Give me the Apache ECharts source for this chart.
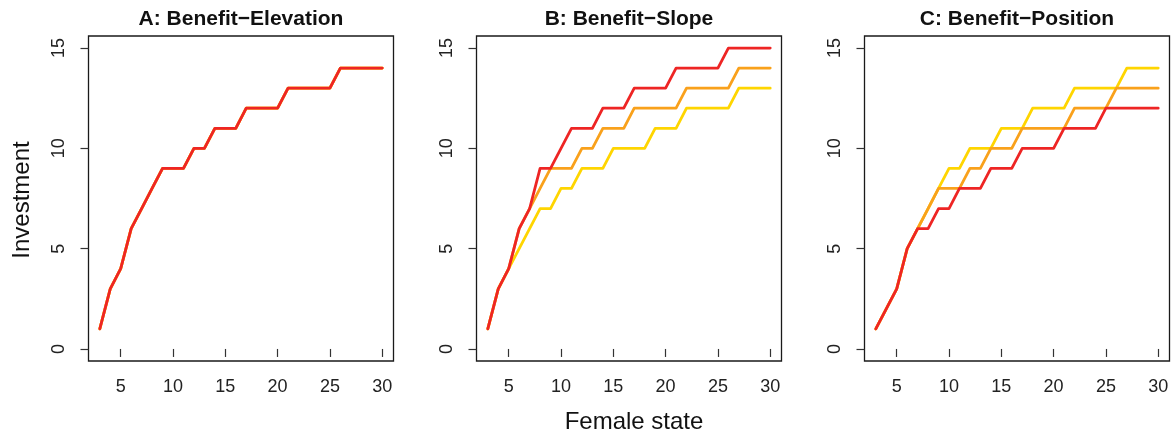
<!DOCTYPE html>
<html>
<head>
<meta charset="utf-8">
<script src="https://cdn.jsdelivr.net/npm/echarts@6/dist/echarts.min.js"></script>
<style>
html,body{margin:0;padding:0;background:#fff;}
#chart{width:1172px;height:437px;}
</style>
</head>
<body>
<div id="chart"></div>
<script>
// Female state (x values)
const femaleState = [3,4,5,6,7,8,9,10,11,12,13,14,15,16,17,18,19,20,21,22,23,24,25,26,27,28,29,30];
const xTicks = [5,10,15,20,25,30];
const yTicks = [0,5,10,15];
const panelTitles = ['A: Benefit\u2212Elevation', 'B: Benefit\u2212Slope', 'C: Benefit\u2212Position'];

// Panel A (all three curves coincide)
const aRed    = [1,3,4,6,7,8,9,9,9,10,10,11,11,11,12,12,12,12,13,13,13,13,13,14,14,14,14,14];
const aOrange = [1,3,4,6,7,8,9,9,9,10,10,11,11,11,12,12,12,12,13,13,13,13,13,14,14,14,14,14];
const aYellow = [1,3,4,6,7,8,9,9,9,10,10,11,11,11,12,12,12,12,13,13,13,13,13,14,14,14,14,14];

// Panel B
const bRed    = [1,3,4,6,7,9,9,10,11,11,11,12,12,12,13,13,13,13,14,14,14,14,14,15,15,15,15,15];
const bOrange = [1,3,4,6,7,8,9,9,9,10,10,11,11,11,12,12,12,12,12,13,13,13,13,13,14,14,14,14];
const bYellow = [1,3,4,5,6,7,7,8,8,9,9,9,10,10,10,10,11,11,11,12,12,12,12,12,13,13,13,13];

// Panel C
const cRed    = [1,2,3,5,6,6,7,7,8,8,8,9,9,9,10,10,10,10,11,11,11,11,12,12,12,12,12,12];
const cOrange = [1,2,3,5,6,7,8,8,8,9,9,10,10,10,11,11,11,11,11,12,12,12,12,13,13,13,13,13];
const cYellow = [1,2,3,5,6,7,8,9,9,10,10,10,11,11,11,12,12,12,12,13,13,13,13,13,14,14,14,14];

const colors = {red:'#EE2524', orange:'#F9A11B', yellow:'#FFD500'};
const FONT = 'Liberation Sans, Arial, Helvetica, sans-serif';

const panels = [
  {left:88.5, width:305, title:panelTitles[0], s:[aYellow,aOrange,aRed]},
  {left:476.5, width:305, title:panelTitles[1], s:[bYellow,bOrange,bRed]},
  {left:864.5, width:305, title:panelTitles[2], s:[cYellow,cOrange,cRed]}
];
const TOP = 36, HEIGHT = 325;

const grid = [], xAxis = [], yAxis = [], series = [], graphic = [];
panels.forEach((p, i) => {
  grid.push({left:p.left, top:TOP, width:p.width, height:HEIGHT, show:true,
    borderColor:'#1a1a1a', borderWidth:1.3, backgroundColor:'transparent'});
  xAxis.push({type:'value', gridIndex:i, min:1.92, max:31.08,
    axisLine:{show:false}, splitLine:{show:false},
    axisTick:{show:true, inside:false, length:8, customValues:xTicks, lineStyle:{color:'#333', width:1.2}},
    axisLabel:{show:true, customValues:xTicks, margin:17, fontSize:18, color:'#222', fontFamily:FONT}
  });
  yAxis.push({type:'value', gridIndex:i, min:-0.6, max:15.6,
    axisLine:{show:false}, splitLine:{show:false},
    axisTick:{show:true, inside:false, length:8, customValues:yTicks, lineStyle:{color:'#333', width:1.2}},
    axisLabel:{show:true, customValues:yTicks, rotate:90, margin:20, fontSize:18, color:'#222', fontFamily:FONT}
  });
  const cols = [colors.yellow, colors.orange, colors.red];
  p.s.forEach((arr, k) => {
    series.push({type:'line', xAxisIndex:i, yAxisIndex:i, showSymbol:false, symbol:'none',
      data: femaleState.map((x, j) => [x, arr[j]]),
      lineStyle:{color:cols[k], width:2.8, join:'round', cap:'round'},
      z: 2 + k, animation:false, silent:true});
  });
  graphic.push({type:'text', x: p.left + p.width/2, y: 19.5,
    style:{text:p.title, font:'bold 21px ' + FONT, fill:'#111', textAlign:'center', textVerticalAlign:'middle'}});
});

graphic.push({type:'text', x:22, y:200, rotation:Math.PI/2,
  style:{text:'Investment', font:'24px ' + FONT, fill:'#111', textAlign:'center', textVerticalAlign:'middle'}});
graphic.push({type:'text', x:634, y:422,
  style:{text:'Female state', font:'24px ' + FONT, fill:'#111', textAlign:'center', textVerticalAlign:'middle'}});

const chart = echarts.init(document.getElementById('chart'), null, {renderer:'canvas'});
chart.setOption({animation:false, backgroundColor:'#fff', grid, xAxis, yAxis, series, graphic});
</script>
</body>
</html>
